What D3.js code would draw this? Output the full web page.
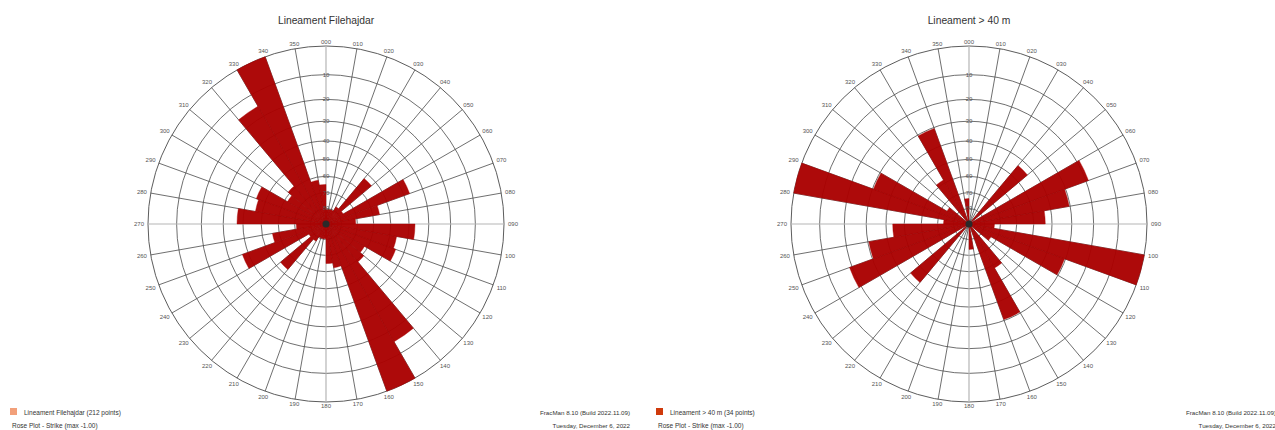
<!DOCTYPE html>
<html>
<head>
<meta charset="utf-8">
<script src="https://cdn.jsdelivr.net/npm/d3@7"></script>
<style>
  html, body { margin: 0; padding: 0; background: #fff; }
  svg { display: block; font-family: "Liberation Sans", Arial, sans-serif; }
</style>
</head>
<body>
<svg id="chart" width="1275" height="430"></svg>
<script>
// ---------------- data ----------------
// strike bins (degrees, 10° wide); each bin is drawn bidirectionally (θ and θ+180)
const binStarts = [0, 10, 20, 30, 40, 50, 60, 70, 80, 90, 100, 110, 120, 130, 140, 150, 160, 170];

// Lineament Filehajdar (212 points)
const leftCounts  = [3, 3, 3, 4, 12, 4, 18, 11, 6, 18, 14.5, 15, 9, 10, 27.5, 36, 9, 8];

// Lineament > 40 m (34 points)
const rightCounts = [0, 0, 0, 0, 3, 0, 5, 4, 3, 1, 7, 4, 1, 0, 2, 4, 0, 1];

// dip circles (stereographic rings) and their labels
const dipRings = [10, 20, 30, 40, 50, 60, 70, 80];

// azimuth tick labels
const azimuthLabels = ["000","010","020","030","040","050","060","070","080","090",
                       "100","110","120","130","140","150","160","170","180","190",
                       "200","210","220","230","240","250","260","270","280","290",
                       "300","310","320","330","340","350"];
const azimuthValues = [0,10,20,30,40,50,60,70,80,90,100,110,120,130,140,150,160,170,
                       180,190,200,210,220,230,240,250,260,270,280,290,300,310,320,330,340,350];

const titles       = ["Lineament Filehajdar", "Lineament > 40 m"];
const legendLabels = ["Lineament Filehajdar (212 points)", "Lineament > 40 m (34 points)"];
const subLabel     = "Rose Plot - Strike (max -1.00)";
const buildLabel   = "FracMan 8.10 (Build 2022.11.09)";
const dateLabel    = "Tuesday, December 6, 2022";

// ---------------- drawing ----------------
const svg = d3.select("#chart");
const panels = [
  { counts: leftCounts,  cx: 326, cy: 224, title: titles[0], legend: legendLabels[0], legendColor: "#f2a07a", x0: 0 },
  { counts: rightCounts, cx: 969, cy: 224, title: titles[1], legend: legendLabels[1], legendColor: "#cf3a0c", x0: 646 }
];
const R = 178;
const barColor = "#aa0000";
const angle = d3.scaleLinear().domain([0, 360]).range([0, 2 * Math.PI]);
// stereographic projection of dip angle to ring radius
const ringRadius = d3.scaleLinear().domain([0, 1]).range([0, R]);
const stereo = dip => ringRadius(Math.tan((90 - dip) * Math.PI / 360));

panels.forEach(p => {
  const g = svg.append("g").attr("transform", `translate(${p.cx},${p.cy})`);
  const r = d3.scaleLinear().domain([0, d3.max(p.counts)]).range([0, R]);

  // outer circle + dip rings
  g.append("circle").attr("r", R).attr("fill", "none").attr("stroke", "#4a4a4a").attr("stroke-width", 0.9);
  g.selectAll("circle.ring").data(dipRings).join("circle")
    .attr("class", "ring").attr("r", d => stereo(d))
    .attr("fill", "none").attr("stroke", "#4a4a4a").attr("stroke-width", 0.8);

  // radial lines
  g.selectAll("line.rad").data(azimuthValues).join("line")
    .attr("class", "rad")
    .attr("x1", 0).attr("y1", 0)
    .attr("x2", d => R * Math.sin(angle(d)))
    .attr("y2", d => -R * Math.cos(angle(d)))
    .attr("stroke", d => d % 90 === 0 ? "#b5b5b5" : "#4a4a4a")
    .attr("stroke-width", d => d % 90 === 0 ? 1.2 : 0.8);

  // bars (bidirectional)
  const arc = d3.arc().innerRadius(0);
  const bars = [];
  binStarts.forEach((b, i) => {
    [b, b + 180].forEach(s => bars.push({ start: s, value: p.counts[i] }));
  });
  g.selectAll("path.bar").data(bars.filter(d => d.value > 0)).join("path")
    .attr("class", "bar")
    .attr("d", d => arc({ outerRadius: r(d.value), startAngle: angle(d.start), endAngle: angle(d.start + 10) }))
    .attr("fill", barColor).attr("fill-opacity", 0.96)
    .attr("stroke", barColor).attr("stroke-width", 0.4);

  // grid convergence at centre
  g.append("circle").attr("r", 3.5).attr("fill", "#2a2a2a");

  // dip ring labels on the north axis
  g.selectAll("text.ringlab").data(dipRings).join("text")
    .attr("class", "ringlab")
    .attr("x", 0).attr("y", d => -stereo(d))
    .attr("text-anchor", "middle").attr("dominant-baseline", "central")
    .attr("font-size", 6).attr("fill", "#555")
    .text(d => d);

  // azimuth labels
  g.selectAll("text.az").data(azimuthValues).join("text")
    .attr("class", "az")
    .attr("x", d => (R + 4 + 5 * Math.abs(Math.sin(angle(d)))) * Math.sin(angle(d)))
    .attr("y", d => -(R + 4 + 5 * Math.abs(Math.sin(angle(d)))) * Math.cos(angle(d)))
    .attr("text-anchor", "middle").attr("dominant-baseline", "central")
    .attr("font-size", 6).attr("fill", "#555")
    .text((d, i) => azimuthLabels[i]);

  // title
  svg.append("text").attr("x", p.cx).attr("y", 24)
    .attr("text-anchor", "middle").attr("font-size", 10.3).attr("fill", "#333")
    .text(p.title);

  // legend
  svg.append("rect").attr("x", p.x0 + 10).attr("y", 408).attr("width", 7).attr("height", 7)
    .attr("fill", p.legendColor);
  svg.append("text").attr("x", p.x0 + 24).attr("y", 414.5)
    .attr("font-size", 6.5).attr("fill", "#333").text(p.legend);
  svg.append("text").attr("x", p.x0 + 12).attr("y", 428)
    .attr("font-size", 6.5).attr("fill", "#333").text(subLabel);
  svg.append("text").attr("x", p.x0 + 630).attr("y", 414.5).attr("text-anchor", "end")
    .attr("font-size", 6.2).attr("fill", "#333").text(buildLabel);
  svg.append("text").attr("x", p.x0 + 630).attr("y", 428).attr("text-anchor", "end")
    .attr("font-size", 6.2).attr("fill", "#333").text(dateLabel);
});
</script>
</body>
</html>
